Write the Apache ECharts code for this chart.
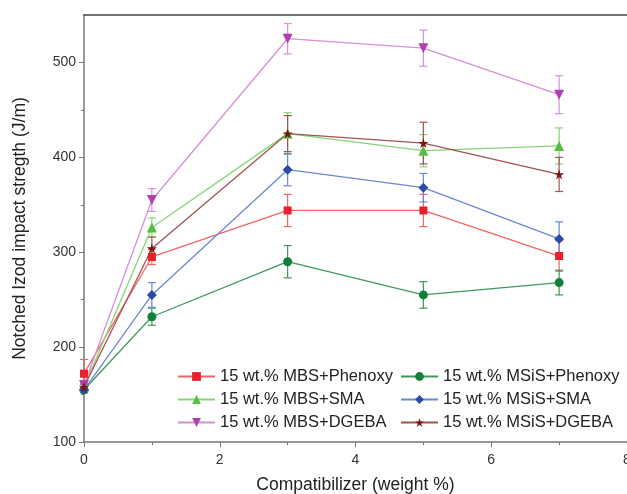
<!DOCTYPE html>
<html><head><meta charset="utf-8">
<script src="https://cdn.jsdelivr.net/npm/echarts@6/dist/echarts.min.js"></script>
<style>html,body{margin:0;padding:0;background:#fff}#c{width:627px;height:494px}</style>
</head><body><div id="c"></div>
<script>
const xs = [0, 1, 3, 5, 7];
const names = ['15 wt.% MBS+Phenoxy','15 wt.% MSiS+Phenoxy','15 wt.% MBS+SMA','15 wt.% MSiS+SMA','15 wt.% MBS+DGEBA','15 wt.% MSiS+DGEBA'];
const mbsPhenoxy = [172, 295, 344, 344, 296];
const mbsPhenoxyErr = [15, 8, 17, 17, 16];
const msisPhenoxy = [155, 232, 290, 255, 268];
const msisPhenoxyErr = [3, 9, 17, 14, 13];
const mbsSMA = [158, 326, 425, 407, 412];
const mbsSMAErr = [3, 10, 22, 17, 19];
const msisSMA = [155, 255, 387, 368, 314];
const msisSMAErr = [3, 13, 17, 15, 18];
const mbsDGEBA = [160, 355, 525, 515, 466];
const mbsDGEBAErr = [3, 12, 16, 19, 20];
const msisDGEBA = [158, 304, 425, 415, 382];
const msisDGEBAErr = [3, 12, 19, 22, 18];
const xTicks = [0, 2, 4, 6, 8];
const yTicks = [100, 200, 300, 400, 500];
const yMinorTicks = [150, 250, 350, 450];

const vals = [mbsPhenoxy, msisPhenoxy, mbsSMA, msisSMA, mbsDGEBA, msisDGEBA];
const errs = [mbsPhenoxyErr, msisPhenoxyErr, mbsSMAErr, msisSMAErr, mbsDGEBAErr, msisDGEBAErr];
const markerColors = ['#e8202a', '#13803a', '#55c040', '#2a4aa8', '#b23fb0', '#7a1515'];
const lineColors = ['#f06464', '#3d9a5c', '#86d676', '#6c88d2', '#d690d6', '#a45252'];
const starPath = 'path://M5,0 L6.2,3.6 L10,3.6 L6.9,5.9 L8.1,9.5 L5,7.3 L1.9,9.5 L3.1,5.9 L0,3.6 L3.8,3.6 Z';
const symbols = ['rect', 'circle', 'triangle', 'diamond', 'path://M0,0 L10,0 L5,9 Z', starPath];
const sizes = [8, 9, 10, 10, 10, 10];

const series = [];
vals.forEach((v, k) => {
  series.push({
    name: names[k] + ' err', type: 'custom', z: 1, silent: true,
    data: xs.map((x, i) => [x, v[i] - errs[k][i], v[i] + errs[k][i]]),
    renderItem: function (params, api) {
      const x = api.value(0);
      const p1 = api.coord([x, api.value(1)]);
      const p2 = api.coord([x, api.value(2)]);
      const w = 4;
      const st = { stroke: lineColors[k], lineWidth: 1.2 };
      return { type: 'group', children: [
        { type: 'line', shape: { x1: p1[0], y1: p1[1], x2: p2[0], y2: p2[1] }, style: st },
        { type: 'line', shape: { x1: p1[0] - w, y1: p1[1], x2: p1[0] + w, y2: p1[1] }, style: st },
        { type: 'line', shape: { x1: p2[0] - w, y1: p2[1], x2: p2[0] + w, y2: p2[1] }, style: st }
      ]};
    }
  });
});
vals.forEach((v, k) => {
  series.push({
    name: names[k], type: 'line', z: 3,
    data: xs.map((x, i) => [x, v[i]]),
    symbol: symbols[k], symbolSize: sizes[k],
    itemStyle: { color: markerColors[k] },
    lineStyle: { color: lineColors[k], width: 1.3 }
  });
});

const chart = echarts.init(document.getElementById('c'));
const legendCommon = {
  orient: 'vertical', itemWidth: 37, itemHeight: 11, itemGap: 6,
  textStyle: { fontFamily: 'Liberation Sans', fontSize: 16.5, color: '#222' },
  padding: 0
};
chart.setOption({
  animation: false,
  backgroundColor: '#fff',
  textStyle: { fontFamily: 'Liberation Sans' },
  grid: { left: 84, right: 0, top: 15, bottom: 52, outerBoundsMode: 'none' },
  legend: [
    Object.assign({ left: 177, top: 368, data: [names[0], names[2], names[4]] }, legendCommon),
    Object.assign({ left: 400, top: 368, data: [names[1], names[3], names[5]] }, legendCommon)
  ],
  xAxis: [{
    type: 'value', min: xTicks[0], max: xTicks[xTicks.length - 1], interval: 2,
    name: 'Compatibilizer (weight %)', nameLocation: 'middle', nameGap: 34,
    nameTextStyle: { fontSize: 17.5, color: '#222', fontFamily: 'Liberation Sans' },
    axisLine: { lineStyle: { color: '#777', width: 1.5 } },
    axisTick: { show: true, length: 5, lineStyle: { color: '#777' } },
    minorTick: { show: true, splitNumber: 2, length: 3, lineStyle: { color: '#777' } },
    axisLabel: { fontSize: 14, color: '#333', margin: 11 },
    splitLine: { show: false }
  }, {
    type: 'value', position: 'top', min: 0, max: 8,
    axisLine: { show: true, lineStyle: { color: '#444', width: 1.5 } },
    axisTick: { show: false }, axisLabel: { show: false }, splitLine: { show: false }
  }],
  yAxis: [{
    type: 'value', min: yTicks[0], max: 550, interval: 50,
    name: 'Notched Izod impact stregth (J/m)', nameLocation: 'middle', nameGap: 55,
    nameTextStyle: { fontSize: 17.5, color: '#222', fontFamily: 'Liberation Sans' },
    axisLine: { show: true, lineStyle: { color: '#777', width: 1.5 } },
    axisTick: { show: true, length: 5, lineStyle: { color: '#777' }, customValues: yTicks },
    minorTick: { show: false },
    axisLabel: { fontSize: 14, color: '#333', margin: 8, customValues: yTicks },
    splitLine: { show: false }
  }, {
    type: 'value', position: 'left', min: yTicks[0], max: 550, interval: 50,
    axisLine: { show: false },
    axisTick: { show: true, length: 3, lineStyle: { color: '#777' }, customValues: yMinorTicks },
    axisLabel: { show: false }, splitLine: { show: false }
  }],
  series: series
});
</script></body></html>
